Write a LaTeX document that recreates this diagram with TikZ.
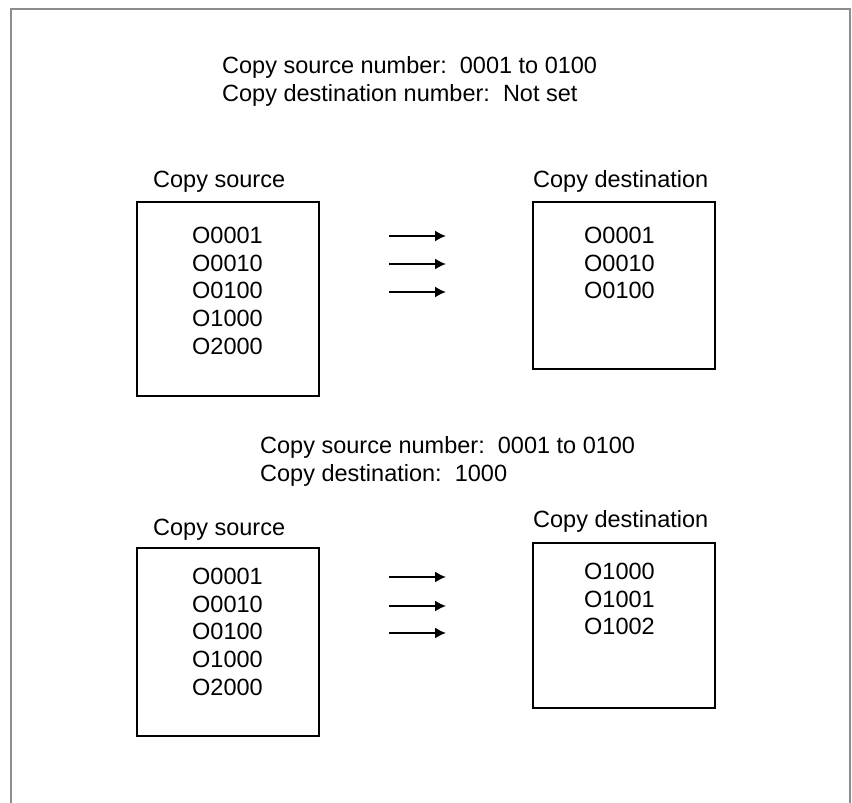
\documentclass[tikz,border=0pt]{standalone}
\usepackage{fontspec}
\setmainfont{Liberation Sans}
\usetikzlibrary{arrows.meta,positioning}

\begin{document}
\begin{tikzpicture}[
    x=1pt, y=-1pt,
    txt/.style={inner sep=0pt, anchor=base west, align=left,
                font=\fontsize{23.5}{28}\selectfont},
    lst/.style={inner sep=0pt, anchor=north west, align=left,
                font=\fontsize{23.5}{27.6}\selectfont},
    memo/.style={draw=black, line width=1.3pt},
    frm/.style={draw=black!45, line width=1.6pt},
    flow/.style={line width=1.7pt, -{Latex[length=11pt,width=11pt]}}
  ]
    \useasboundingbox (0,0) rectangle (852,803);

    % Frame (open at the bottom)
    \draw[frm] (11,803) -- (11,9) -- (850,9) -- (850,803);

    % Case 1: destination number not set
    \node[txt] (hdA) at (222,101) {Copy source number:\ \ 0001 to 0100\\Copy destination number:\ \ Not set};

    \node[txt] (srcA) at (153,187) {Copy source};
    \node[txt] (dstA) at (533,187) {Copy destination};

    \draw[memo] (137,202) rectangle (319,396);
    \draw[memo] (533,202) rectangle (715,369);

    \node[lst] (lsA) at (192,227) {O0001\\O0010\\O0100\\O1000\\O2000};
    \node[lst] (ldA) at (584,227) {O0001\\O0010\\O0100};

    \coordinate (a1) at (389,236);  \coordinate (b1) at (446,236);
    \coordinate (a2) at (389,264);  \coordinate (b2) at (446,264);
    \coordinate (a3) at (389,292);  \coordinate (b3) at (446,292);
    \draw[flow] (a1) -- (b1);
    \draw[flow] (a2) -- (b2);
    \draw[flow] (a3) -- (b3);

    % Case 2: destination number 1000
    \node[txt] (hdB) at (260,481) {Copy source number:\ \ 0001 to 0100\\Copy destination:\ \ 1000};

    \node[txt] (srcB) at (153,535) {Copy source};
    \node[txt] (dstB) at (533,527) {Copy destination};

    \draw[memo] (137,548) rectangle (319,736);
    \draw[memo] (533,543) rectangle (715,708);

    \node[lst] (lsB) at (192,568) {O0001\\O0010\\O0100\\O1000\\O2000};
    \node[lst] (ldB) at (584,563) {O1000\\O1001\\O1002};

    \coordinate (c1) at (389,577);  \coordinate (d1) at (446,577);
    \coordinate (c2) at (389,606);  \coordinate (d2) at (446,606);
    \coordinate (c3) at (389,633);  \coordinate (d3) at (446,633);
    \draw[flow] (c1) -- (d1);
    \draw[flow] (c2) -- (d2);
    \draw[flow] (c3) -- (d3);
  \end{tikzpicture}
\end{document}
